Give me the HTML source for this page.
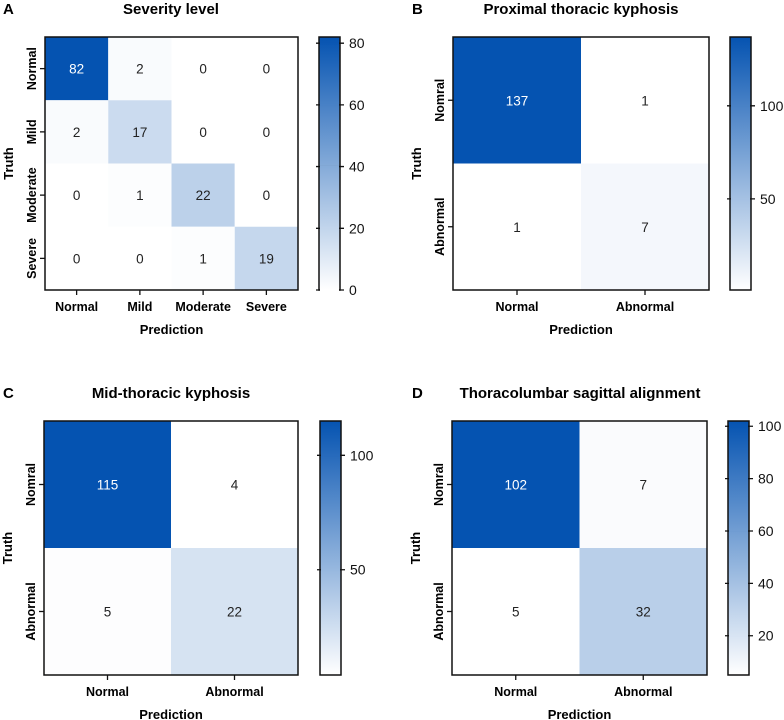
<!DOCTYPE html>
<html><head><meta charset="utf-8"><style>
body{margin:0;background:#fff;}
svg{display:block;font-family:"Liberation Sans",Arial,sans-serif;}
</style></head><body>
<svg id="chart" width="784" height="720" viewBox="0 0 784 720"></svg>
<script>
const aLabels = ["Normal","Mild","Moderate","Severe"];
const aValues = [[82,2,0,0],[2,17,0,0],[0,1,22,0],[0,0,1,19]];
const aTicks = [0,20,40,60,80];
const bValues = [[137,1],[1,7]];
const bTicks = [50,100];
const cValues = [[115,4],[5,22]];
const cTicks = [50,100];
const dValues = [[102,7],[5,32]];
const dTicks = [20,40,60,80,100];
const predLabels2 = ["Normal","Abnormal"];
const truthLabels2 = ["Nomral","Abnormal"];

const svg = document.getElementById('chart');
const NS = 'http://www.w3.org/2000/svg';
function mk(tag, attrs, parent){const e=document.createElementNS(NS,tag);for(const k in attrs)e.setAttribute(k,attrs[k]);(parent||svg).appendChild(e);return e;}
function color(t){const r=Math.round(255-t*250),g=Math.round(255-t*172),b=Math.round(255-t*78);return `rgb(${r},${g},${b})`;}

function panel(cfg){
  const g=mk('g',{});
  
  
  const {x0,y0,w,h,vals,xl,yl,ticks,cbx}=cfg;
  const n=vals.length;
  const flat=vals.flat();const vmin=Math.min(...flat),vmax=Math.max(...flat);
  const cw=w/n,chh=h/n;
  const L=mk('text',{x:cfg.lx,y:y0-23,'font-size':15,'font-weight':'bold',fill:'#000'},g);L.textContent=cfg.letter;
  
  
  const T=mk('text',{x:cfg.tx,y:y0-23,'font-size':15,'font-weight':'bold','text-anchor':'middle',fill:'#000'},g);T.textContent=cfg.title;
  
  
  for(let i=0;i<n;i++)for(let j=0;j<n;j++){
    const v=vals[i][j];const t=(v-vmin)/(vmax-vmin);
    const r=mk('rect',{x:x0+j*cw,y:y0+i*chh,width:cw,height:chh,fill:color(t)},g);
    
    
    const tx=mk('text',{x:x0+j*cw+cw/2,y:y0+i*chh+chh/2+5,'font-size':13.5,'text-anchor':'middle',fill:t>0.6?'#fff':'#222'},g);tx.textContent=v;
    
    
  }
  mk('rect',{x:x0,y:y0,width:w,height:h,fill:'none',stroke:'#111','stroke-width':1.5},g);
  for(let j=0;j<n;j++){
    const cx=x0+j*cw+cw/2;
    mk('line',{x1:cx,x2:cx,y1:y0+h,y2:y0+h+5,stroke:'#111','stroke-width':1.3},g);
    const t=mk('text',{x:cx,y:y0+h+21,'font-size':12.5,'font-weight':'bold','text-anchor':'middle'},g);t.textContent=xl[j];
    
    
  }
  for(let i=0;i<n;i++){
    const cy=y0+i*chh+chh/2;
    mk('line',{x1:x0-5,x2:x0,y1:cy,y2:cy,stroke:'#111','stroke-width':1.3},g);
    const t=mk('text',{x:0,y:0,'font-size':12.5,'font-weight':'bold','text-anchor':'middle',transform:`translate(${x0-9},${cy}) rotate(-90)`},g);t.textContent=yl[i];
    
    
  }
  const xt=mk('text',{x:x0+w/2,y:y0+h+44,'font-size':13,'font-weight':'bold','text-anchor':'middle'},g);xt.textContent='Prediction';
  
  
  const yt=mk('text',{x:0,y:0,'font-size':13,'font-weight':'bold','text-anchor':'middle',transform:`translate(${cfg.truthX},${y0+h/2}) rotate(-90)`},g);yt.textContent='Truth';
  
  
  const gid='grad'+cfg.letter;
  const defs=mk('defs',{},g);const lg=mk('linearGradient',{id:gid,x1:0,y1:1,x2:0,y2:0},defs);
  mk('stop',{offset:0,'stop-color':color(0)},lg);mk('stop',{offset:0.5,'stop-color':color(0.5)},lg);mk('stop',{offset:1,'stop-color':color(1)},lg);
  const cb=mk('rect',{x:cbx,y:y0,width:21,height:h,fill:`url(#${gid})`,stroke:'#111','stroke-width':1.5},g);
  
  
  const sy=v=>y0+h-(v-vmin)/(vmax-vmin)*h;
  ticks.forEach(v=>{
    const y=sy(v);
    mk('line',{x1:cbx-3,x2:cbx+25,y1:y,y2:y,stroke:'#111','stroke-width':1.3},g);
    mk('rect',{x:cbx+1,y:y-1,width:19,height:2,fill:color((v-vmin)/(vmax-vmin))},g);
    const t=mk('text',{x:cbx+30,y:y+5,'font-size':14,fill:'#111'},g);t.textContent=v;
    
    
  });
}
panel({letter:'A',title:'Severity level',lx:3,tx:171,x0:45,y0:37,w:253,h:253,vals:aValues,xl:aLabels,yl:aLabels,ticks:aTicks,cbx:319,truthX:13});
panel({letter:'B',title:'Proximal thoracic kyphosis',lx:412,tx:581,x0:453,y0:37,w:256,h:253,vals:bValues,xl:predLabels2,yl:truthLabels2,ticks:bTicks,cbx:730,truthX:421});
panel({letter:'C',title:'Mid-thoracic kyphosis',lx:3,tx:171,x0:44,y0:421,w:254,h:254,vals:cValues,xl:predLabels2,yl:truthLabels2,ticks:cTicks,cbx:320,truthX:12});
panel({letter:'D',title:'Thoracolumbar sagittal alignment',lx:412,tx:580,x0:452,y0:421,w:255,h:254,vals:dValues,xl:predLabels2,yl:truthLabels2,ticks:dTicks,cbx:728,truthX:420});
</script>
</body></html>
